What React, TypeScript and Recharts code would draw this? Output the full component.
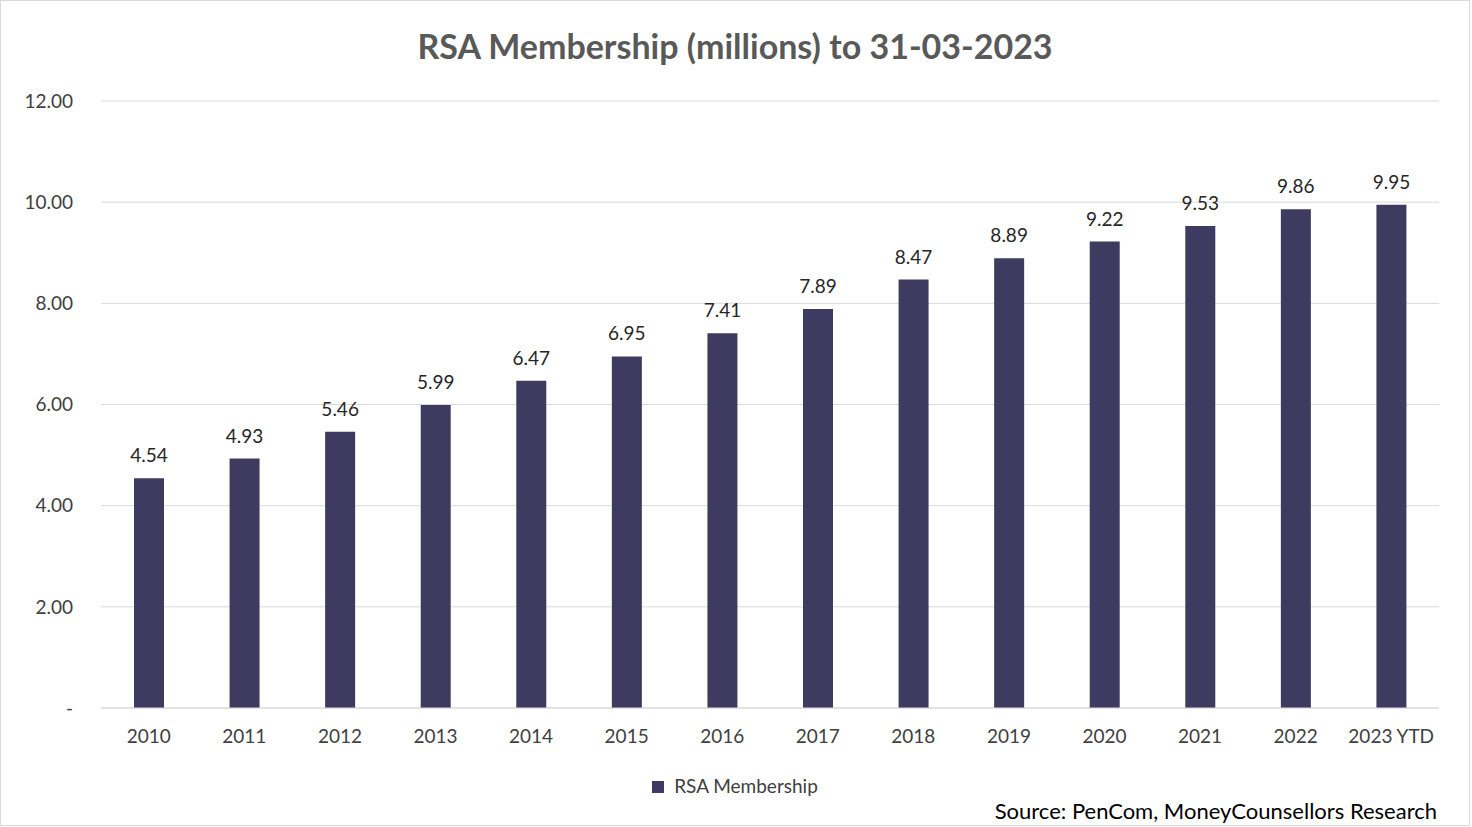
import { BarChart, Bar, XAxis, YAxis, CartesianGrid, LabelList } from "recharts";

const years = ["2010", "2011", "2012", "2013", "2014", "2015", "2016", "2017", "2018", "2019", "2020", "2021", "2022", "2023 YTD"];
const members = [4.54, 4.93, 5.46, 5.99, 6.47, 6.95, 7.41, 7.89, 8.47, 8.89, 9.22, 9.53, 9.86, 9.95];
const yTicks = [0, 2, 4, 6, 8, 10, 12];

const data = years.map((year, i) => ({ year, members: members[i] }));
const font = "Lato, 'Open Sans', sans-serif";
const barColor = "#3f3a60";

export default function App() {
    return (
        <div style={{ position: "absolute", left: 0, top: 0, width: 1468, height: 824, border: "1px solid #d9d9d9", background: "#fff", fontFamily: font }}>
            <div style={{ position: "absolute", top: 24, width: "100%", textAlign: "center", fontSize: 34, fontWeight: 700, color: "#595959" }}>
                RSA Membership (millions) to 31-03-2023
            </div>
            <BarChart width={1468} height={822} data={data} margin={{ top: 100, right: 30, bottom: 70, left: 0 }}>
                <CartesianGrid vertical={false} stroke="#d9d9d9" />
                <XAxis dataKey="year" height={45} tickLine={false} axisLine={{ stroke: "#d9d9d9" }}
                    tick={{ fill: "#404040", fontSize: 19, fontFamily: font }} tickMargin={16} />
                <YAxis width={100} domain={[0, 12]} ticks={yTicks} axisLine={false} tickLine={false}
                    tickFormatter={(v: number) => (v === 0 ? "-" : v.toFixed(2))}
                    tick={{ fill: "#404040", fontSize: 19, fontFamily: font }} tickMargin={22} />
                <Bar dataKey="members" fill={barColor} barSize={30} isAnimationActive={false}>
                    <LabelList dataKey="members" position="top" offset={16}
                        formatter={(v: number) => v.toFixed(2)}
                        style={{ fill: "#262626", fontSize: 19, fontFamily: font }} />
                </Bar>
            </BarChart>
            <div style={{ position: "absolute", top: 773, width: "100%", textAlign: "center", fontSize: 19, color: "#404040" }}>
                <span style={{ display: "inline-block", width: 12, height: 12, background: barColor, marginRight: 10 }} />
                RSA Membership
            </div>
            <div style={{ position: "absolute", top: 796, right: 32, fontSize: 22, color: "#000" }}>
                Source: PenCom, MoneyCounsellors Research
            </div>
        </div>
    );
}
